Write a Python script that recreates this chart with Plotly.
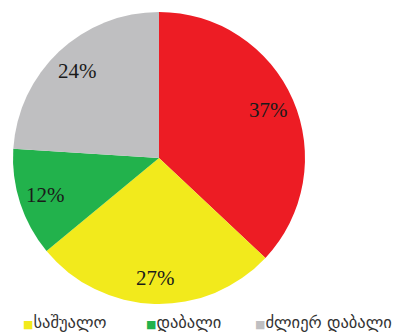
import math
import plotly.graph_objects as go

# slice data (clockwise from 12 o'clock)
LABELS = ["მაღალი", "საშუალო", "დაბალი", "ძლიერ დაბალი"]
VALUES = [37, 27, 12, 24]
COLORS = ["#ed1c24", "#f2ea1c", "#22b24c", "#bfbfc1"]

# legend entries visible in the picture
LEGEND_LABELS = ["საშუალო", "დაბალი", "ძლიერ დაბალი"]
LEGEND_COLORS = ["#f2ea1c", "#22b24c", "#bfbfc1"]

W, H = 399, 336
CX, CY, R = 159, 158, 146  # pie centre / radius in px

fig = go.Figure(
    go.Pie(
        labels=LABELS,
        values=VALUES,
        sort=False,
        direction="clockwise",
        rotation=0,
        marker=dict(colors=COLORS, line=dict(width=0)),
        textinfo="none",
        showlegend=False,
        domain=dict(x=[(CX - R) / W, (CX + R) / W],
                    y=[1 - (CY + R) / H, 1 - (CY - R) / H]),
        hoverinfo="label+percent",
    )
)

# percent labels placed further out than plotly's default, like the source
total = sum(VALUES)
cum = 0
for v in VALUES:
    ang = 2 * math.pi * (cum + v / 2) / total
    cum += v
    rl = 0.82 * R
    fig.add_annotation(
        x=(CX + rl * math.sin(ang)) / W,
        y=1 - (CY - rl * math.cos(ang)) / H,
        xref="paper", yref="paper", showarrow=False,
        xanchor="center", yanchor="middle",
        text=f"{v}%",
        font=dict(family="Liberation Serif", size=21, color="#1a1a1a"),
    )

legend_x = [0.052, 0.36, 0.634]
for x, lab, col in zip(legend_x, LEGEND_LABELS, LEGEND_COLORS):
    fig.add_annotation(
        x=x, y=1 - 322 / H, xref="paper", yref="paper",
        xanchor="left", yanchor="middle", showarrow=False,
        text=f"<span style='color:{col};font-size:11px'>■</span>{lab}",
        font=dict(family="DejaVu Sans", size=16.5, color="#333"),
    )

fig.update_layout(
    width=W,
    height=H,
    margin=dict(l=0, r=0, t=0, b=0),
    paper_bgcolor="#fff",
    plot_bgcolor="#fff",
)

fig.write_html("out.html", config={"displayModeBar": False},
               post_script="document.body.style.margin='0';")
